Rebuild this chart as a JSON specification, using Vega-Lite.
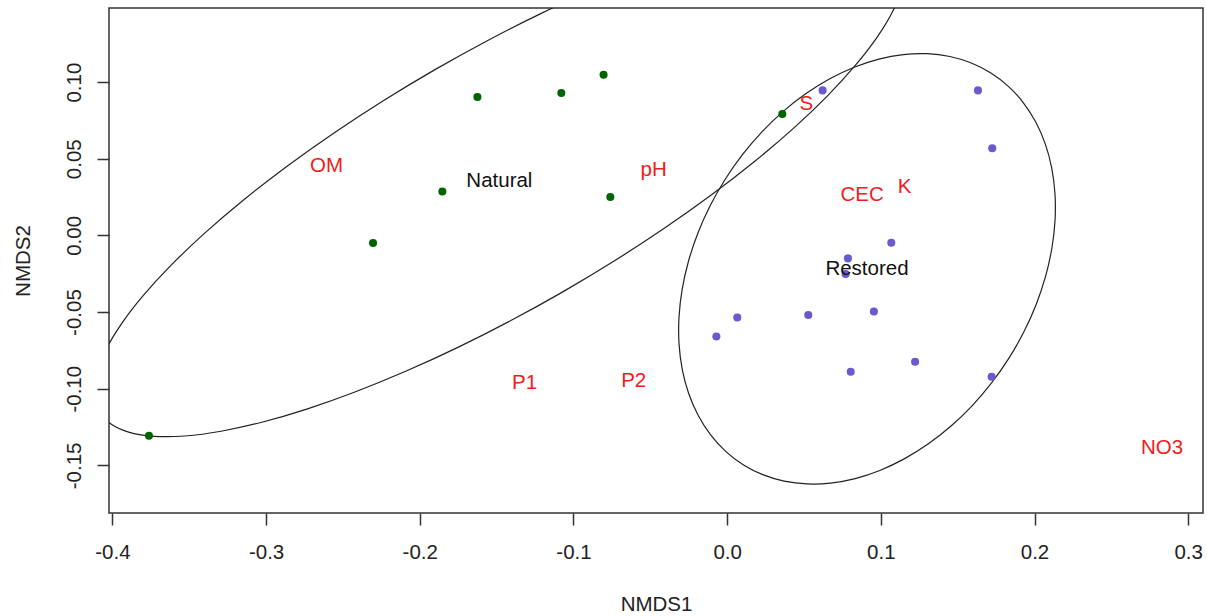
{
  "$schema": "https://vega.github.io/schema/vega-lite/v6.json",
  "width": 1094,
  "height": 505,
  "autosize": {"type": "none"},
  "padding": {"left": 109, "top": 8, "right": 4, "bottom": 103},
  "background": "white",
  "config": {
    "view": {"stroke": "#333333", "strokeWidth": 1.5},
    "font": "Liberation Sans",
    "axis": {
      "grid": false,
      "domain": false,
      "tickSize": 12,
      "tickColor": "#333333",
      "tickWidth": 1.5,
      "labelFont": "Liberation Sans",
      "labelFontSize": 20.5,
      "labelColor": "#222222",
      "titleFont": "Liberation Sans",
      "titleFontSize": 20.5,
      "titleFontWeight": "normal",
      "titleColor": "#222222"
    }
  },
  "datasets": {
    "ell": [
      {"e":"Natural","ord":0,"x":0.11213,"y":0.18651},{"e":"Natural","ord":1,"x":0.10444,"y":0.19466},{"e":"Natural","ord":2,"x":0.09243,"y":0.20010},{"e":"Natural","ord":3,"x":0.07629,"y":0.20272},{"e":"Natural","ord":4,"x":0.05632,"y":0.20249},{"e":"Natural","ord":5,"x":0.03284,"y":0.19940},{"e":"Natural","ord":6,"x":0.00627,"y":0.19352},{"e":"Natural","ord":7,"x":-0.02295,"y":0.18494},{"e":"Natural","ord":8,"x":-0.05431,"y":0.17381},{"e":"Natural","ord":9,"x":-0.08727,"y":0.16031},{"e":"Natural","ord":10,"x":-0.12128,"y":0.14469},{"e":"Natural","ord":11,"x":-0.15575,"y":0.12720},{"e":"Natural","ord":12,"x":-0.19010,"y":0.10815},{"e":"Natural","ord":13,"x":-0.22373,"y":0.08787},{"e":"Natural","ord":14,"x":-0.25606,"y":0.06669},{"e":"Natural","ord":15,"x":-0.28655,"y":0.04499},{"e":"Natural","ord":16,"x":-0.31468,"y":0.02312},{"e":"Natural","ord":17,"x":-0.33995,"y":0.00148},{"e":"Natural","ord":18,"x":-0.36195,"y":-0.01958},{"e":"Natural","ord":19,"x":-0.38028,"y":-0.03968},{"e":"Natural","ord":20,"x":-0.39466,"y":-0.05850},{"e":"Natural","ord":21,"x":-0.40481,"y":-0.07571},{"e":"Natural","ord":22,"x":-0.41057,"y":-0.09101},{"e":"Natural","ord":23,"x":-0.41184,"y":-0.10412},{"e":"Natural","ord":24,"x":-0.40861,"y":-0.11486},{"e":"Natural","ord":25,"x":-0.40092,"y":-0.12301},{"e":"Natural","ord":26,"x":-0.38891,"y":-0.12845},{"e":"Natural","ord":27,"x":-0.37277,"y":-0.13107},{"e":"Natural","ord":28,"x":-0.35280,"y":-0.13084},{"e":"Natural","ord":29,"x":-0.32932,"y":-0.12775},{"e":"Natural","ord":30,"x":-0.30275,"y":-0.12187},{"e":"Natural","ord":31,"x":-0.27353,"y":-0.11329},{"e":"Natural","ord":32,"x":-0.24218,"y":-0.10216},{"e":"Natural","ord":33,"x":-0.20921,"y":-0.08866},{"e":"Natural","ord":34,"x":-0.17520,"y":-0.07304},{"e":"Natural","ord":35,"x":-0.14073,"y":-0.05555},{"e":"Natural","ord":36,"x":-0.10638,"y":-0.03650},{"e":"Natural","ord":37,"x":-0.07275,"y":-0.01622},{"e":"Natural","ord":38,"x":-0.04042,"y":0.00496},{"e":"Natural","ord":39,"x":-0.00993,"y":0.02666},{"e":"Natural","ord":40,"x":0.01820,"y":0.04853},{"e":"Natural","ord":41,"x":0.04347,"y":0.07017},{"e":"Natural","ord":42,"x":0.06547,"y":0.09123},{"e":"Natural","ord":43,"x":0.08380,"y":0.11133},{"e":"Natural","ord":44,"x":0.09818,"y":0.13015},{"e":"Natural","ord":45,"x":0.10833,"y":0.14736},{"e":"Natural","ord":46,"x":0.11409,"y":0.16266},{"e":"Natural","ord":47,"x":0.11536,"y":0.17577},
      {"e":"Restored","ord":0,"x":0.17160,"y":0.10595},{"e":"Restored","ord":1,"x":0.15886,"y":0.11246},{"e":"Restored","ord":2,"x":0.14495,"y":0.11668},{"e":"Restored","ord":3,"x":0.13012,"y":0.11852},{"e":"Restored","ord":4,"x":0.11462,"y":0.11797},{"e":"Restored","ord":5,"x":0.09872,"y":0.11502},{"e":"Restored","ord":6,"x":0.08269,"y":0.10973},{"e":"Restored","ord":7,"x":0.06680,"y":0.10219},{"e":"Restored","ord":8,"x":0.05132,"y":0.09254},{"e":"Restored","ord":9,"x":0.03652,"y":0.08092},{"e":"Restored","ord":10,"x":0.02265,"y":0.06755},{"e":"Restored","ord":11,"x":0.00996,"y":0.05264},{"e":"Restored","ord":12,"x":-0.00135,"y":0.03647},{"e":"Restored","ord":13,"x":-0.01108,"y":0.01929},{"e":"Restored","ord":14,"x":-0.01906,"y":0.00142},{"e":"Restored","ord":15,"x":-0.02516,"y":-0.01686},{"e":"Restored","ord":16,"x":-0.02927,"y":-0.03521},{"e":"Restored","ord":17,"x":-0.03133,"y":-0.05334},{"e":"Restored","ord":18,"x":-0.03129,"y":-0.07093},{"e":"Restored","ord":19,"x":-0.02915,"y":-0.08768},{"e":"Restored","ord":20,"x":-0.02497,"y":-0.10330},{"e":"Restored","ord":21,"x":-0.01879,"y":-0.11753},{"e":"Restored","ord":22,"x":-0.01074,"y":-0.13012},{"e":"Restored","ord":23,"x":-0.00095,"y":-0.14085},{"e":"Restored","ord":24,"x":0.01042,"y":-0.14955},{"e":"Restored","ord":25,"x":0.02317,"y":-0.15606},{"e":"Restored","ord":26,"x":0.03707,"y":-0.16028},{"e":"Restored","ord":27,"x":0.05190,"y":-0.16212},{"e":"Restored","ord":28,"x":0.06740,"y":-0.16157},{"e":"Restored","ord":29,"x":0.08330,"y":-0.15862},{"e":"Restored","ord":30,"x":0.09933,"y":-0.15333},{"e":"Restored","ord":31,"x":0.11522,"y":-0.14579},{"e":"Restored","ord":32,"x":0.13070,"y":-0.13614},{"e":"Restored","ord":33,"x":0.14550,"y":-0.12452},{"e":"Restored","ord":34,"x":0.15937,"y":-0.11115},{"e":"Restored","ord":35,"x":0.17206,"y":-0.09624},{"e":"Restored","ord":36,"x":0.18337,"y":-0.08007},{"e":"Restored","ord":37,"x":0.19310,"y":-0.06289},{"e":"Restored","ord":38,"x":0.20108,"y":-0.04502},{"e":"Restored","ord":39,"x":0.20718,"y":-0.02674},{"e":"Restored","ord":40,"x":0.21129,"y":-0.00839},{"e":"Restored","ord":41,"x":0.21335,"y":0.00974},{"e":"Restored","ord":42,"x":0.21331,"y":0.02733},{"e":"Restored","ord":43,"x":0.21117,"y":0.04408},{"e":"Restored","ord":44,"x":0.20699,"y":0.05970},{"e":"Restored","ord":45,"x":0.20081,"y":0.07393},{"e":"Restored","ord":46,"x":0.19276,"y":0.08652},{"e":"Restored","ord":47,"x":0.18297,"y":0.09725}
    ],
    "sites": [
      {"group":"Natural","x":-0.3762,"y":-0.1307},
      {"group":"Natural","x":-0.2304,"y":-0.0050},
      {"group":"Natural","x":-0.1853,"y":0.0287},
      {"group":"Natural","x":-0.1625,"y":0.0903},
      {"group":"Natural","x":-0.1079,"y":0.0929},
      {"group":"Natural","x":-0.0804,"y":0.1048},
      {"group":"Natural","x":-0.0760,"y":0.0250},
      {"group":"Natural","x":0.0359,"y":0.0792},
      {"group":"Restored","x":0.0621,"y":0.0946},
      {"group":"Restored","x":0.1632,"y":0.0946},
      {"group":"Restored","x":0.1725,"y":0.0568},
      {"group":"Restored","x":0.1068,"y":-0.0048},
      {"group":"Restored","x":0.0786,"y":-0.0150},
      {"group":"Restored","x":0.0771,"y":-0.0252},
      {"group":"Restored","x":0.0066,"y":-0.0535},
      {"group":"Restored","x":0.0528,"y":-0.0519},
      {"group":"Restored","x":0.0955,"y":-0.0496},
      {"group":"Restored","x":-0.0070,"y":-0.0659},
      {"group":"Restored","x":0.0804,"y":-0.0889},
      {"group":"Restored","x":0.1223,"y":-0.0824},
      {"group":"Restored","x":0.1721,"y":-0.0922}
    ],
    "species": [
      {"label":"OM","x":-0.2606,"y":0.0450},
      {"label":"pH","x":-0.0478,"y":0.0429},
      {"label":"S","x":0.0515,"y":0.0859},
      {"label":"CEC","x":0.0878,"y":0.0265},
      {"label":"K","x":0.1155,"y":0.0314},
      {"label":"P1","x":-0.1318,"y":-0.0963},
      {"label":"P2","x":-0.0608,"y":-0.0952},
      {"label":"NO3","x":0.2830,"y":-0.1385}
    ],
    "centroids": [
      {"label":"Natural","x":-0.1482,"y":0.0358},
      {"label":"Restored","x":0.0910,"y":-0.0218}
    ]
  },
  "layer": [
    {
      "data": {"name": "ell"},
      "mark": {"type": "line", "clip": true, "stroke": "#222222", "strokeWidth": 1.2, "interpolate": "cardinal-closed"},
      "encoding": {
        "x": {
          "field": "x", "type": "quantitative",
          "scale": {"domain": [-0.40221, 0.30963], "nice": false, "zero": false},
          "axis": {
            "title": "NMDS1",
            "values": [-0.4, -0.3, -0.2, -0.1, 0, 0.1, 0.2, 0.3],
            "labelExpr": "replace(format(datum.value, '.1f'), '\u2212', '-')",
            "labelPadding": 17,
            "labelFlush": false,
            "labelOverlap": false,
            "titleBaseline": "alphabetic",
            "titleY": 97
          }
        },
        "y": {
          "field": "y", "type": "quantitative",
          "scale": {"domain": [-0.18108, 0.14834], "nice": false, "zero": false},
          "axis": {
            "title": "NMDS2",
            "values": [-0.15, -0.1, -0.05, 0, 0.05, 0.1],
            "labelExpr": "replace(format(datum.value, '.2f'), '\u2212', '-')",
            "labelAngle": -90,
            "labelAlign": "center",
            "labelBaseline": "alphabetic",
            "labelPadding": 17,
            "labelFlush": false,
            "labelOverlap": false,
            "titleAngle": -90,
            "titleAlign": "center",
            "titleBaseline": "alphabetic",
            "titleX": -80,
            "titleY": 252.5
          }
        },
        "detail": {"field": "e"},
        "order": {"field": "ord", "type": "quantitative"}
      }
    },
    {
      "data": {"name": "sites"},
      "mark": {"type": "circle", "opacity": 1, "size": 65},
      "encoding": {
        "x": {"field": "x", "type": "quantitative"},
        "y": {"field": "y", "type": "quantitative"},
        "color": {
          "field": "group", "type": "nominal",
          "scale": {"domain": ["Natural", "Restored"], "range": ["#006400", "#6a5acd"]},
          "legend": null
        }
      }
    },
    {
      "data": {"name": "species"},
      "mark": {"type": "text", "color": "#f01c1c", "fontSize": 20.5, "font": "Liberation Sans", "align": "center", "baseline": "middle"},
      "encoding": {
        "x": {"field": "x", "type": "quantitative"},
        "y": {"field": "y", "type": "quantitative"},
        "text": {"field": "label"}
      }
    },
    {
      "data": {"name": "centroids"},
      "mark": {"type": "text", "color": "#111111", "fontSize": 20.5, "font": "Liberation Sans", "align": "center", "baseline": "middle"},
      "encoding": {
        "x": {"field": "x", "type": "quantitative"},
        "y": {"field": "y", "type": "quantitative"},
        "text": {"field": "label"}
      }
    }
  ]
}
